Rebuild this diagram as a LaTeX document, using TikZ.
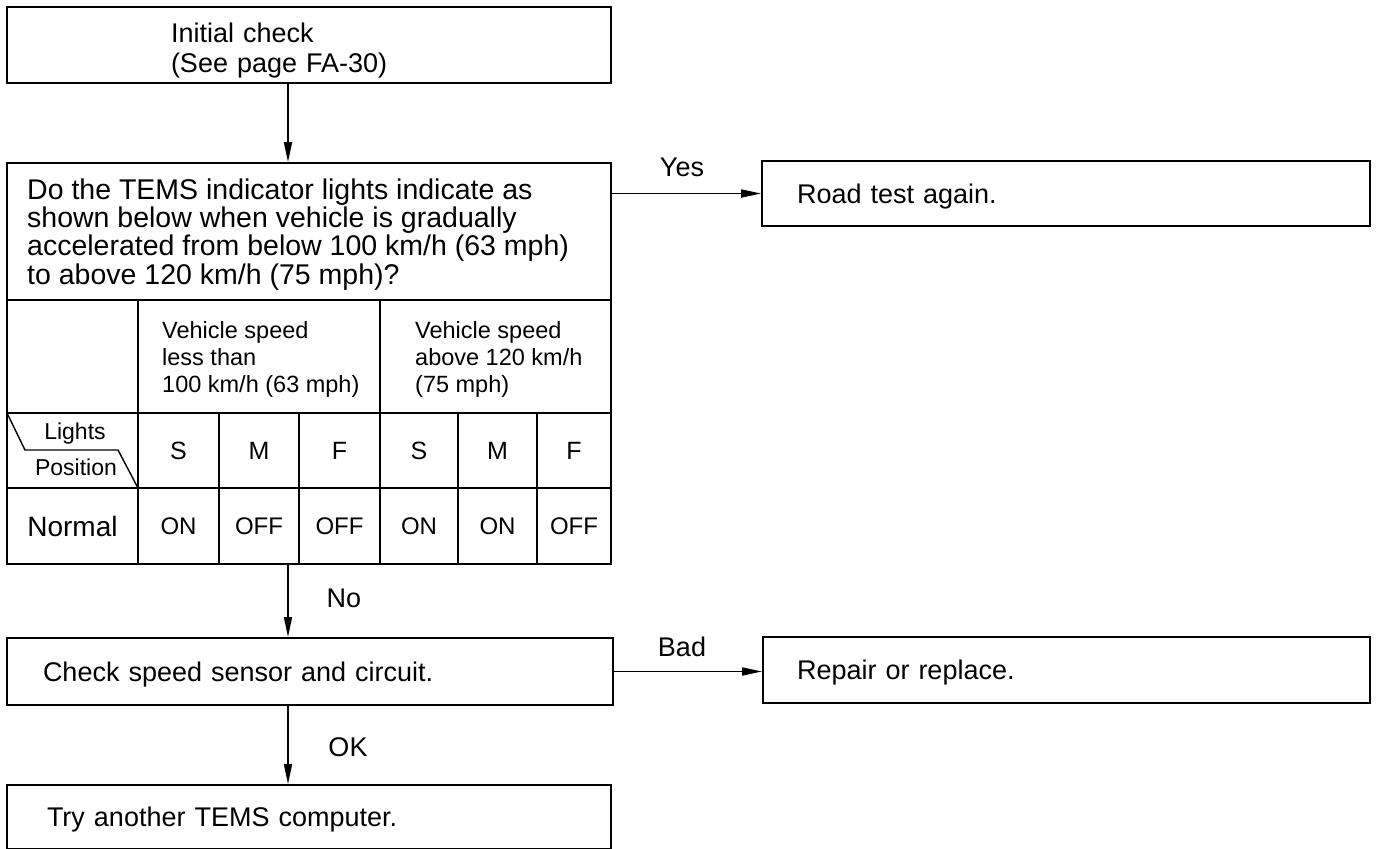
\documentclass[tikz,border=0pt]{standalone}
\usepackage{fontspec}
\setmainfont{Liberation Sans}
\usetikzlibrary{arrows.meta}
\begin{document}
\begin{tikzpicture}[x=1pt,y=-1pt,
  box/.style={draw, line width=1.8pt, rectangle, align=left, font=\fontsize{27}{30}\selectfont},
  onebox/.style={box, text height=19.5pt, text depth=0pt},
  grid/.style={line width=1.4pt},
  arr/.style={line width=1.7pt, -{Triangle[length=20pt,width=8pt]}},
  big/.style={font=\fontsize{28.5}{28.3}\selectfont, inner sep=0pt, align=left, anchor=north west},
  hdr/.style={font=\fontsize{23.5}{27}\selectfont, inner sep=0pt, align=left, anchor=north west},
  lbl/.style={font=\fontsize{27}{27}\selectfont, inner sep=0pt},
  cell/.style={font=\fontsize{24}{24}\selectfont, inner sep=0pt},
  letter/.style={font=\fontsize{25}{25}\selectfont, inner sep=0pt},
  postxt/.style={font=\fontsize{23}{23}\selectfont, inner sep=0pt, anchor=base},
]
\useasboundingbox (0,0) rectangle (1377,849);

% boxes
\node[box, inner xsep=164pt, inner ysep=0pt, text width=276pt, minimum height=76pt] (init) at (309,45)
  {\rule{0pt}{29.7pt}Initial check\\(See page FA-30)};
\node[box, inner sep=0pt, minimum width=604pt, minimum height=401pt] (q) at (309,363.5) {};
\node[onebox, inner xsep=35pt, inner ysep=0pt, text width=538pt, minimum height=65pt] (road) at (1066,193.5)
  {Road test again.};
\node[onebox, inner xsep=36pt, inner ysep=0pt, text width=534pt, minimum height=67pt] (check) at (310,671.5)
  {Check speed sensor and circuit.};
\node[onebox, inner xsep=34pt, inner ysep=0pt, text width=539pt, minimum height=66pt] (repair) at (1066.5,670)
  {Repair or replace.};
\node[onebox, inner xsep=40pt, inner ysep=0pt, text width=524pt, minimum height=64pt] (try) at (309,817)
  {Try another TEMS computer.};

% table inside the question box
\draw[grid] (7,300) -- (611,300);
\draw[grid] (7,413) -- (611,413);
\draw[grid] (7,488) -- (611,488);
\draw[grid] (138,300) -- (138,564);
\draw[grid] (380,300) -- (380,564);
\foreach \xx in {219,299,458,537} \draw[grid] (\xx,413) -- (\xx,564);
\draw[grid] (7,413) -- (25,450) -- (118,450) -- (138,488);

\node[big] (qt) at (27,178.5) {Do the TEMS indicator lights indicate as\\shown below when vehicle is gradually\\accelerated from below 100 km/h (63 mph)\\to above 120 km/h (75 mph)?};
\node[hdr] (h1) at (162,321.5) {Vehicle speed\\less than\\100 km/h (63 mph)};
\node[hdr] (h2) at (415,321.5) {Vehicle speed\\above 120 km/h\\(75 mph)};
\node[postxt] (lights) at (75,439) {Lights};
\node[postxt] (position) at (76,475) {Position};
\node[letter] (s1) at (178.5,451) {S};
\node[letter] (m1) at (259,451) {M};
\node[letter] (f1) at (339.5,451) {F};
\node[letter] (s2) at (419,451) {S};
\node[letter] (m2) at (497.5,451) {M};
\node[letter] (f2) at (574,451) {F};
\node[font=\fontsize{28}{28}\selectfont, inner sep=0pt] (normal) at (72.5,526) {Normal};
\node[cell] (v1) at (178.5,526) {ON};
\node[cell] (v2) at (259,526) {OFF};
\node[cell] (v3) at (339.5,526) {OFF};
\node[cell] (v4) at (419,526) {ON};
\node[cell] (v5) at (497.5,526) {ON};
\node[cell] (v6) at (574,526) {OFF};

% connectors
\draw[arr] ([xshift=-21pt]init.south) -- ([xshift=-21pt]q.north);
\draw[arr] (q.east |- road.west) -- (road.west);
\draw[arr] ([xshift=-21pt]q.south) -- ([xshift=-22pt]check.north);
\draw[arr] ([xshift=-22pt]check.south) -- ([xshift=-21pt]try.north);
\draw[arr] (check.east) -- (check.east -| repair.west);

% labels
\node[lbl] (yes) at (682,167) {Yes};
\node[lbl] (bad) at (682,647) {Bad};
\node[lbl] (no) at (344,598) {No};
\node[lbl] (ok) at (348,747) {OK};
\end{tikzpicture}
\end{document}
